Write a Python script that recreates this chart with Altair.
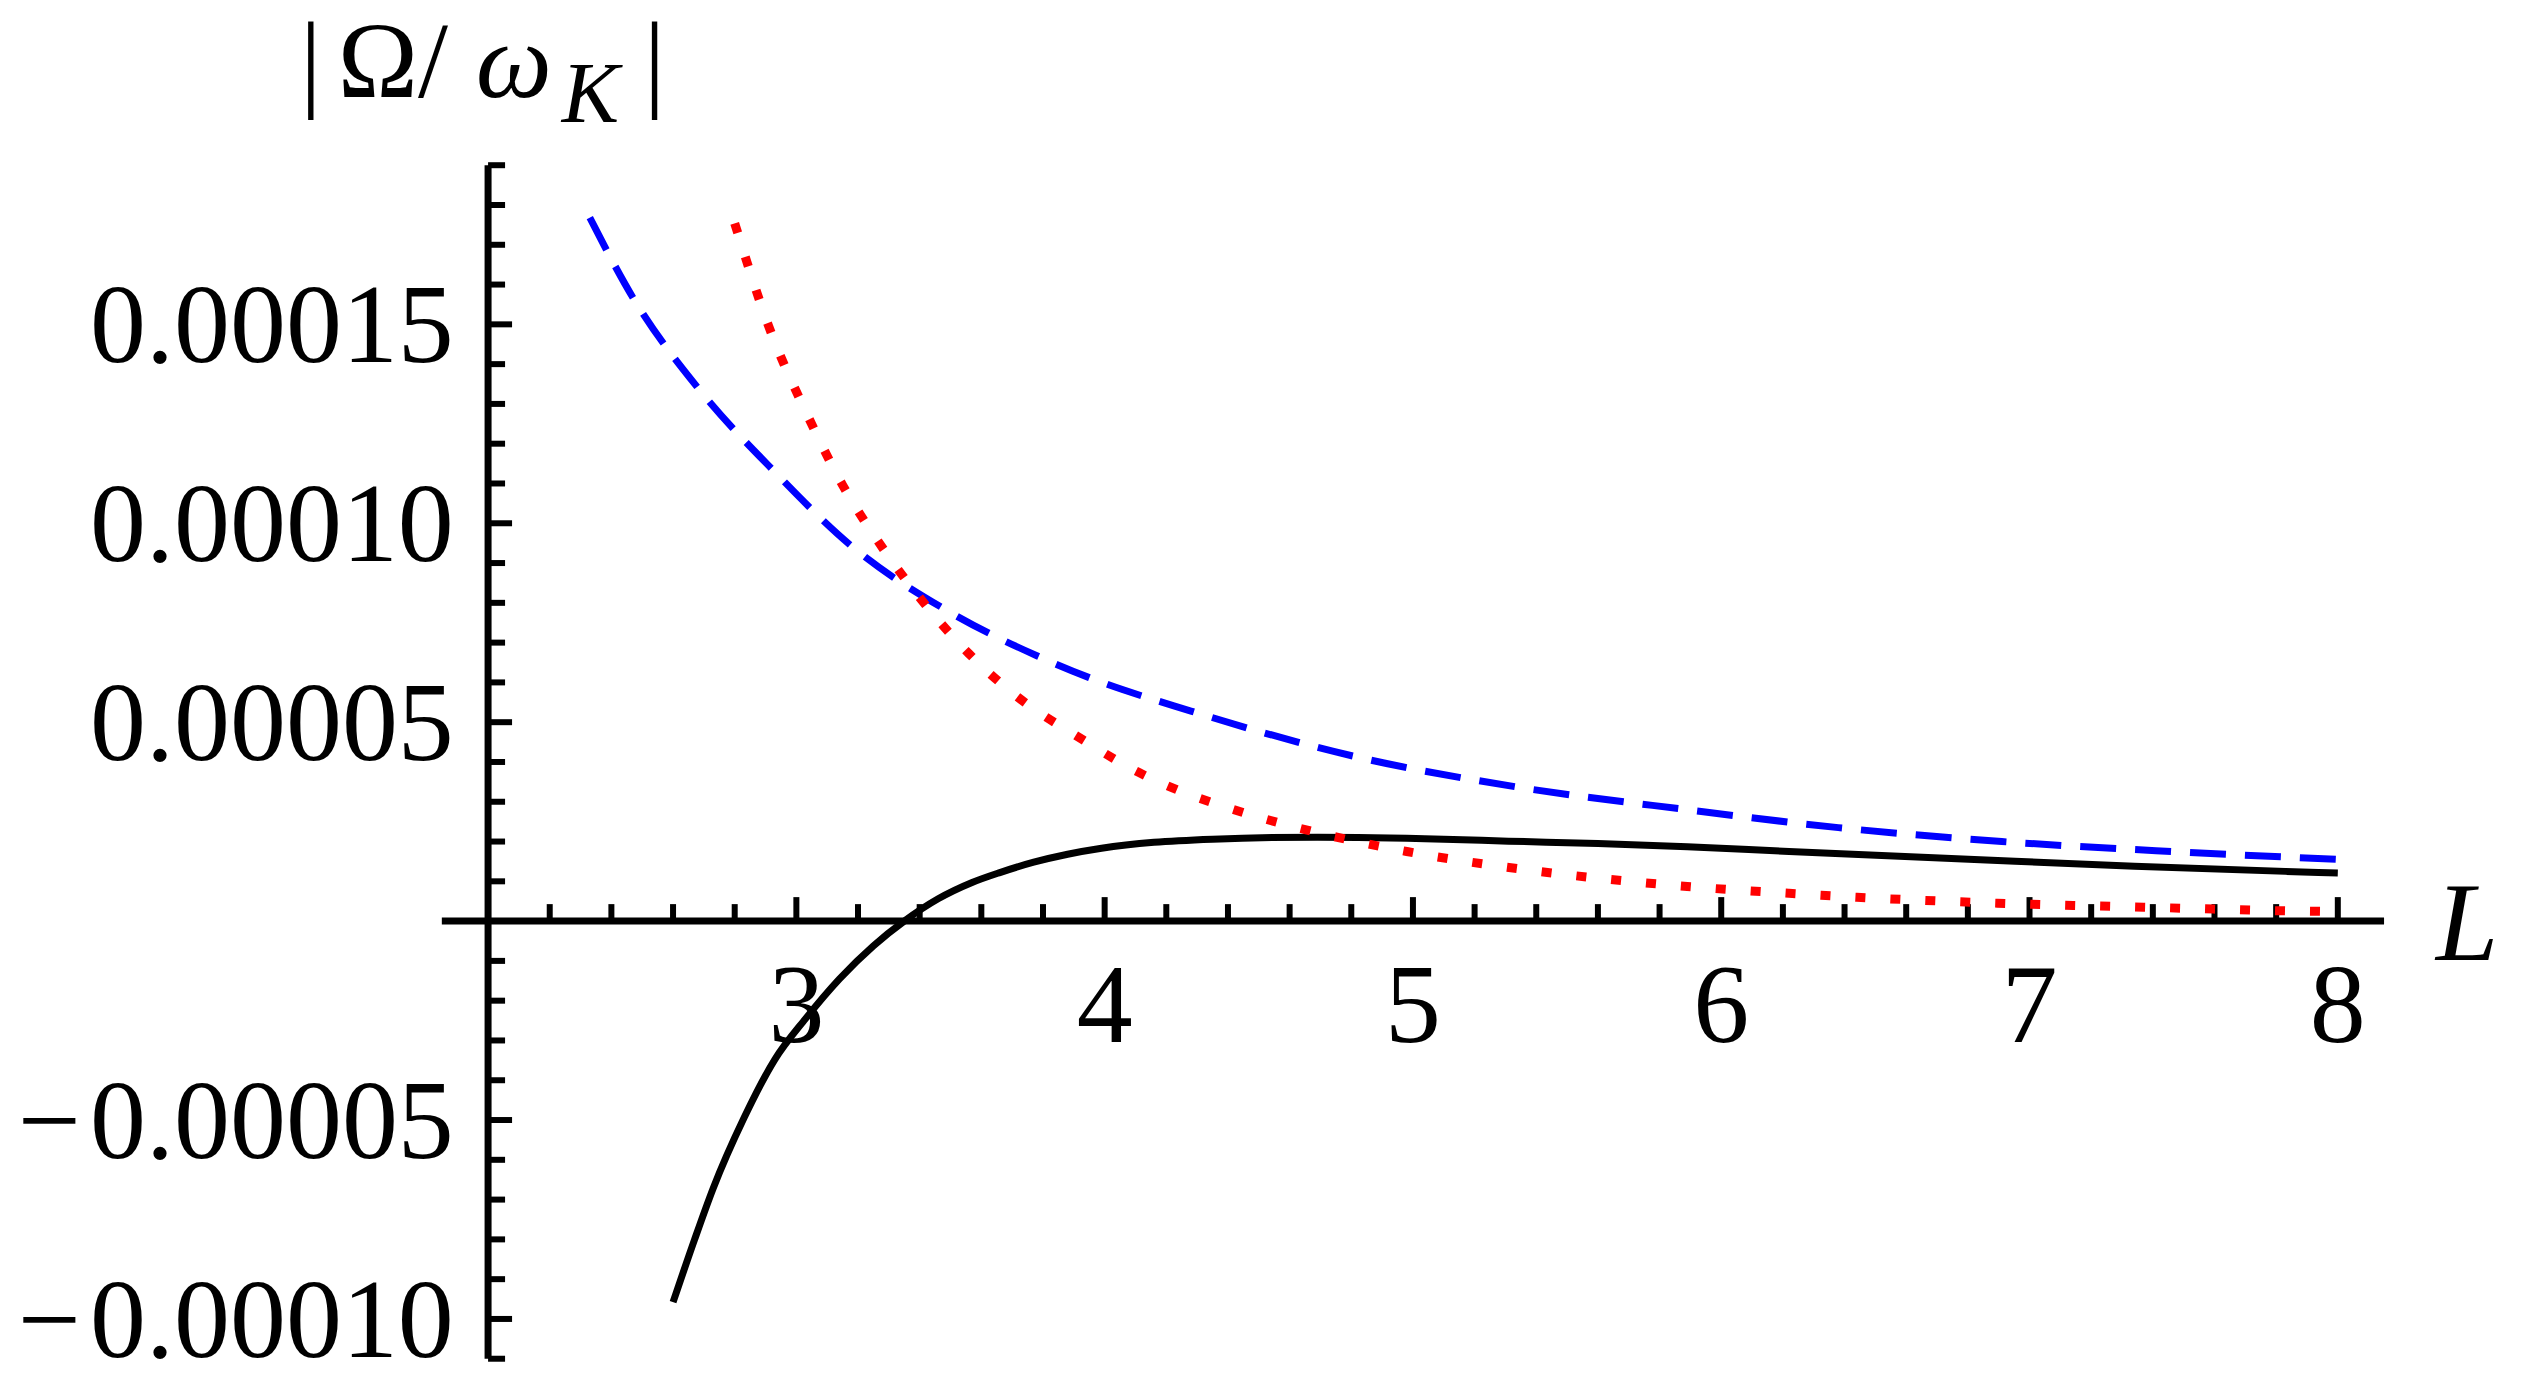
import altair as alt
import pandas as pd

# ---------------- data ----------------
L_black = [2.60, 2.67, 2.73, 2.83, 2.93, 3.03, 3.14, 3.25, 3.35, 3.46, 3.57, 3.66, 3.77,
           3.88, 3.99, 4.16, 4.35, 4.69, 5.10, 5.31, 5.60, 5.89, 6.22, 6.84, 7.34, 7.83, 8.00]
v_black = [-0.0000958, -0.0000800, -0.0000672, -0.0000495, -0.0000348, -0.0000245,
           -0.0000145, -0.0000062, 0.0000000, 0.0000056, 0.0000097, 0.0000122, 0.0000148,
           0.0000168, 0.0000183, 0.0000198, 0.0000206, 0.0000211, 0.0000206, 0.0000201,
           0.0000195, 0.0000187, 0.0000175, 0.0000154, 0.0000138, 0.0000125, 0.0000121]

L_blue = [2.33, 2.47, 2.68, 2.93, 3.18, 3.49, 3.78, 3.95, 4.28, 4.81, 5.33, 5.89, 6.38,
          6.91, 7.46, 8.00]
v_blue = [0.0001768, 0.0001567, 0.0001341, 0.0001129, 0.0000942, 0.0000780, 0.0000667,
          0.0000612, 0.0000528, 0.0000414, 0.0000338, 0.0000280, 0.0000235, 0.0000200,
          0.0000175, 0.0000155]

L_red = [2.80, 2.91, 3.04, 3.15, 3.27, 3.40, 3.56, 3.73, 3.91, 4.11, 4.22, 4.42, 4.65,
         4.98, 5.43, 5.89, 6.22, 6.44, 6.86, 7.42, 7.89, 8.00]
v_red = [0.0001754, 0.0001496, 0.0001265, 0.0001096, 0.0000949, 0.0000813, 0.0000672,
         0.0000556, 0.0000465, 0.0000374, 0.0000335, 0.0000280, 0.0000230, 0.0000175,
         0.0000123, 0.0000087, 0.0000070, 0.0000060, 0.0000046, 0.0000034, 0.0000025,
         0.0000024]

# axis ranges / ticks
x_range = [1.85, 8.15]
y_range = [-0.00011, 0.00019]
x_axis_pos = 2.0          # where the vertical axis sits
x_major = [3, 4, 5, 6, 7, 8]
x_major_labels = ["3", "4", "5", "6", "7", "8"]
x_minor = [round(2 + 0.2 * i, 1) for i in range(1, 31) if i % 5 != 0]
y_major = [-0.00010, -0.00005, 0.00005, 0.00010, 0.00015]
y_major_labels = ["\u2212\u200a0.00010", "\u2212\u200a0.00005", "0.00005", "0.00010", "0.00015"]
y_minor = [round(k * 0.00001, 5) for k in range(-11, 20) if k % 5 != 0]

FONT = "Liberation Serif"

xs = alt.Scale(domain=x_range, nice=False, zero=False)
ys = alt.Scale(domain=y_range, nice=False, zero=False)

df_black = pd.DataFrame({"L": L_black, "v": v_black})
df_blue = pd.DataFrame({"L": L_blue, "v": v_blue})
df_red = pd.DataFrame({"L": L_red, "v": v_red})

X = lambda f: alt.X(f, type="quantitative", scale=xs, axis=None)
Y = lambda f: alt.Y(f, type="quantitative", scale=ys, axis=None)

black = alt.Chart(df_black).mark_line(color="black", strokeWidth=7, interpolate="monotone").encode(
    x=X("L"), y=Y("v"))
blue = alt.Chart(df_blue).mark_line(color="#0000FF", strokeWidth=7, strokeDash=[36, 19],
                                    interpolate="monotone").encode(x=X("L"), y=Y("v"))
red = alt.Chart(df_red).mark_line(color="#FF0000", strokeWidth=9, strokeDash=[10, 25],
                                  interpolate="monotone").encode(x=X("L"), y=Y("v"))

# axes lines
df_xaxis = pd.DataFrame({"a": [x_range[0]], "b": [x_range[1]], "zero": [0.0]})
xaxis = alt.Chart(df_xaxis).mark_rule(color="black", strokeWidth=7).encode(
    x=X("a"), x2=alt.X2("b"), y=Y("zero"))
df_yaxis = pd.DataFrame({"a": [y_range[0]], "b": [y_range[1]], "two": [x_axis_pos]})
yaxis = alt.Chart(df_yaxis).mark_rule(color="black", strokeWidth=7).encode(
    y=Y("a"), y2=alt.Y2("b"), x=X("two"))

# ticks
df_xmaj = pd.DataFrame({"L": x_major, "zero": 0.0, "t": x_major_labels})
df_xmin = pd.DataFrame({"L": x_minor, "zero": 0.0})
df_ymaj = pd.DataFrame({"v": y_major, "two": x_axis_pos, "t": y_major_labels})
df_ymin = pd.DataFrame({"v": y_minor, "two": x_axis_pos})

xtick_maj = alt.Chart(df_xmaj).mark_rule(color="black", strokeWidth=6, y2Offset=-24).encode(
    x=X("L"), y=Y("zero"), y2=alt.Y2("zero"))
xtick_min = alt.Chart(df_xmin).mark_rule(color="black", strokeWidth=6, y2Offset=-17).encode(
    x=X("L"), y=Y("zero"), y2=alt.Y2("zero"))
ytick_maj = alt.Chart(df_ymaj).mark_rule(color="black", strokeWidth=6, x2Offset=24).encode(
    y=Y("v"), x=X("two"), x2=alt.X2("two"))
ytick_min = alt.Chart(df_ymin).mark_rule(color="black", strokeWidth=6, x2Offset=17).encode(
    y=Y("v"), x=X("two"), x2=alt.X2("two"))

xlabels = alt.Chart(df_xmaj).mark_text(font=FONT, fontSize=112, color="black", align="center",
                                       baseline="alphabetic", dy=121).encode(
    x=X("L"), y=Y("zero"), text="t:N")
ylabels = alt.Chart(df_ymaj).mark_text(font=FONT, fontSize=112, color="black", align="right",
                                       baseline="alphabetic", dy=38).encode(
    x=alt.value(12), y=Y("v"), text="t:N")

# axis labels (pixel positions relative to the plot origin)
def txt(s, x, y, size, style="normal"):
    return alt.Chart(pd.DataFrame({"t": [s]})).mark_text(
        font=FONT, fontSize=size, fontStyle=style, color="black", align="left",
        baseline="alphabetic").encode(x=alt.value(x), y=alt.value(y), text="t:N")

ylab = (txt("|", -142, -68, 108) + txt("\u03a9/", -104, -68, 108)
        + txt("\u03c9", 34, -68, 108, "italic") + txt("K", 120, -43, 86, "italic")
        + txt("|", 202, -68, 108))
xlab = txt("L", 1995, 795, 112, "italic")

chart = alt.layer(
    xaxis, yaxis, xtick_min, xtick_maj, ytick_min, ytick_maj,
    black, blue, red, xlabels, ylabels, ylab, xlab
).properties(
    width=1943, height=1194,
    padding={"left": 434, "top": 157, "right": 130, "bottom": 12},
    autosize=alt.AutoSizeParams(type="none"),
    background="white",
).configure_view(stroke=None)

chart.save("out.html", embed_options={"renderer": "svg", "actions": False})
